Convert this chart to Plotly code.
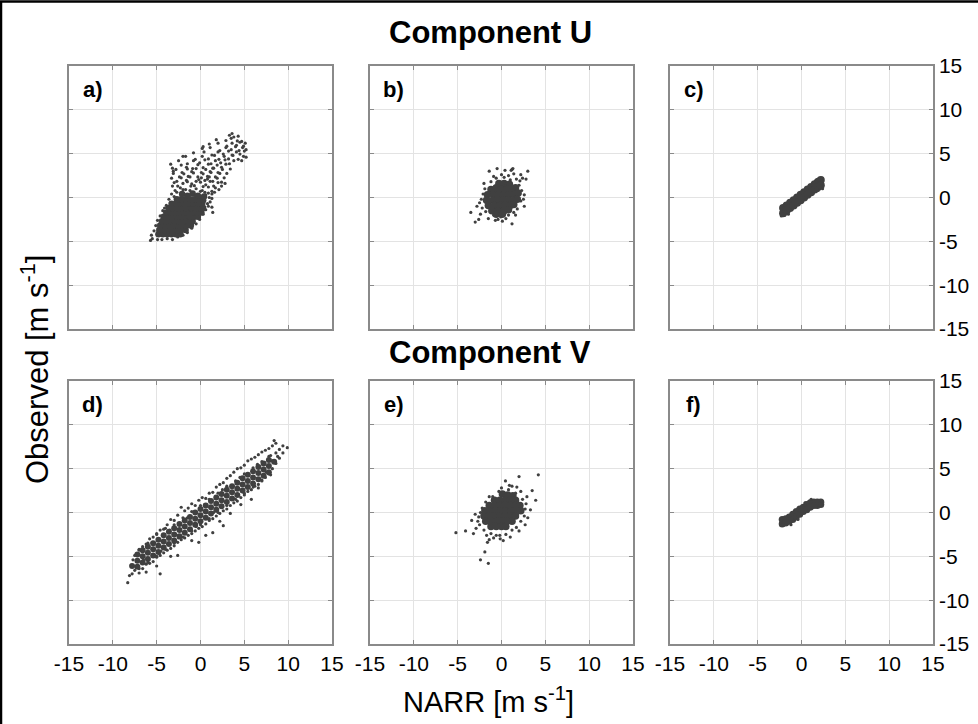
import plotly.graph_objects as go

# ---------------------------------------------------------------
# NARR vs observed wind components (m/s), six panels.
# Each panel: scattered individual samples + densely packed core samples.
# ---------------------------------------------------------------

# a) Component U, station 1
a_pts = [(-3.2, 1.3), (-2.9, 0.8), (-2.3, 1.1), (-1.1, 1.3), (0.2, 0.8), (0.9, 1.2), (1.3, 0.7), (1.7, 1.1),
         (-1.7, 0.9), (-0.5, 1.0), (0.5, 0.6),
         (-3.0, 1.7), (-2.6, 1.3), (-2.0, 1.6), (-1.5, 1.8), (-0.7, 1.35), (0.0, 1.75), (0.6, 1.45),
         (1.1, 1.85), (1.5, 1.3), (2.0, 1.7), (-1.0, 1.55), (0.3, 1.25),
         (-3.3, 2.2), (-2.7, 1.85), (-2.2, 2.25), (-1.6, 1.95), (-1.2, 2.35), (-0.5, 1.85), (0.1, 2.25),
         (0.5, 1.95), (1.0, 2.35), (1.4, 1.85), (1.9, 2.2), (2.4, 1.75), (-0.2, 2.05), (0.8, 2.1),
         (-3.1, 2.75), (-2.4, 2.35), (-1.9, 2.7), (-1.4, 2.4), (-0.8, 2.8), (-0.3, 2.35), (0.3, 2.7),
         (0.8, 2.4), (1.2, 2.85), (1.7, 2.35), (2.2, 2.75), (2.7, 2.25),
         (-2.8, 3.2), (-2.1, 2.85), (-1.5, 3.25), (-1.0, 2.95), (-0.5, 3.3), (0.1, 2.85), (0.6, 3.2),
         (1.1, 2.95), (1.5, 3.35), (2.0, 2.85), (2.5, 3.2), (3.0, 2.75),
         (-3.2, 3.35), (-2.2, 3.7), (-1.6, 3.45), (-0.9, 3.3), (-0.3, 3.75), (0.3, 3.4), (0.9, 3.8),
         (1.4, 3.35), (1.9, 3.7), (2.4, 3.45), (2.9, 3.8), (3.4, 3.25),
         (-2.5, 4.2), (-1.5, 3.85), (-0.8, 4.2), (-0.1, 3.95), (0.5, 4.3), (1.2, 3.85), (1.7, 4.2),
         (2.3, 3.95), (2.8, 4.3), (3.3, 3.85), (3.8, 4.2),
         (-1.7, 4.7), (-0.6, 4.35), (0.2, 4.7), (0.9, 4.4), (1.6, 4.8), (2.1, 4.35), (2.7, 4.7),
         (3.2, 4.4), (3.7, 4.8), (4.3, 4.35), (4.9, 4.7),
         (-0.8, 5.1), (0.4, 5.2), (1.3, 4.85), (2.0, 5.2), (2.6, 4.95), (3.2, 5.3), (3.6, 4.85),
         (4.1, 5.2), (4.5, 4.95), (5.0, 5.3),
         (0.2, 5.6), (1.1, 5.7), (2.2, 5.35), (2.9, 5.7), (3.5, 5.45), (4.0, 5.8), (4.4, 5.35),
         (4.8, 5.7), (5.2, 5.45),
         (1.0, 6.1), (2.0, 6.2), (3.0, 5.85), (3.6, 6.2), (4.1, 5.95), (4.5, 6.3), (4.9, 5.85), (5.1, 6.2),
         (1.8, 6.6), (2.9, 6.5), (3.5, 6.75), (4.2, 6.45), (4.7, 6.4),
         (3.3, 7.1), (3.8, 6.9), (4.3, 7.0), (3.6, 7.3),
         (0.9, 0.5), (1.3, 0.4), (1.6, 0.6), (1.0, 0.0), (1.3, -0.1), (1.1, -0.5), (0.9, -1.0), (1.3, -1.1),
         (1.4, -1.7), (2.1, 0.9), (2.4, 1.3), (2.8, 1.6), (5.2, 4.6), (4.7, 4.2),
         (-5.7, -4.9), (-5.5, -4.7), (-5.6, -4.3), (-5.3, -3.8), (-5.1, -3.2), (-4.9, -2.6), (-4.6, -2.1),
         (-4.3, -1.5), (-3.9, -0.9), (-3.6, -0.2), (-3.3, 0.4), (-4.9, -4.8), (-4.4, -4.8), (-3.8, -4.7),
         (-3.2, -4.8), (-2.6, -4.5), (-2.0, -4.3), (-1.5, -4.0), (-1.0, -3.5), (-0.5, -3.0), (-0.1, -2.5),
         (0.3, -1.9), (0.6, -1.4), (0.8, -0.7), (-3.4, 3.8), (-3.1, 3.0), (-2.0, 4.7), (0.3, 5.8),
         (-2.7, 0.6), (-2.0, 0.9), (-1.2, 0.8), (0.0, 0.7), (0.6, 0.3), (-3.0, 0.1), (-4.1, -1.2)]
a_core = [(-4.8, -4.2), (-4.3, -4.2), (-3.8, -4.2), (-3.3, -4.2), (-2.8, -4.2), (-2.3, -4.2),
          (-4.7, -3.7), (-4.2, -3.7), (-3.7, -3.7), (-3.2, -3.7), (-2.7, -3.7), (-2.2, -3.7), (-1.7, -3.7),
          (-4.6, -3.2), (-4.1, -3.2), (-3.6, -3.2), (-3.1, -3.2), (-2.6, -3.2), (-2.1, -3.2), (-1.6, -3.2),
          (-1.1, -3.2),
          (-4.4, -2.7), (-3.9, -2.7), (-3.4, -2.7), (-2.9, -2.7), (-2.4, -2.7), (-1.9, -2.7), (-1.4, -2.7),
          (-0.9, -2.7),
          (-4.2, -2.2), (-3.7, -2.2), (-3.2, -2.2), (-2.7, -2.2), (-2.2, -2.2), (-1.7, -2.2), (-1.2, -2.2),
          (-0.7, -2.2), (-0.3, -2.2),
          (-3.9, -1.7), (-3.4, -1.7), (-2.9, -1.7), (-2.4, -1.7), (-1.9, -1.7), (-1.4, -1.7), (-0.9, -1.7),
          (-0.4, -1.7), (0.1, -1.7),
          (-3.6, -1.2), (-3.1, -1.2), (-2.6, -1.2), (-2.1, -1.2), (-1.6, -1.2), (-1.1, -1.2), (-0.6, -1.2),
          (-0.1, -1.2), (0.3, -1.2),
          (-3.3, -0.7), (-2.8, -0.7), (-2.3, -0.7), (-1.8, -0.7), (-1.3, -0.7), (-0.8, -0.7), (-0.3, -0.7),
          (0.2, -0.7),
          (-2.7, -0.2), (-2.2, -0.2), (-1.7, -0.2), (-1.2, -0.2), (-0.7, -0.2), (-0.2, -0.2), (0.3, -0.3),
          (-2.1, 0.4), (-1.5, 0.2), (-0.9, 0.45), (-0.3, 0.2), (0.4, 0.1)]

# b) Component U, station 2
b_pts = [(-3.5, -1.7), (-3.0, -2.8), (-2.6, -2.5), (-2.5, -0.6), (-1.4, 3.0), (-0.5, 3.3),
         (0.4, 3.1), (1.2, 3.2), (1.4, 2.7), (3.0, 3.0), (2.8, 2.1), (2.6, 0.3),
         (2.6, -1.0), (1.4, -1.7), (0.5, -2.4), (1.2, -3.0), (-1.5, -2.4), (-0.4, -2.5),
         (2.4, 2.2), (1.7, 2.1), (-2.2, -1.2), (-2.1, 0.4), (-1.9, 1.0), (-1.2, 1.8),
         (-0.6, 2.2), (0.3, 2.3), (1.0, 2.0), (2.0, 1.4), (2.3, 0.8), (2.2, -0.4),
         (1.8, -1.3), (0.8, -2.0), (-0.1, -2.2), (-0.9, -2.0), (-1.8, -1.6), (-2.3, -0.2),
         (1.3, 3.3), (1.1, 3.1), (-2.4, -1.9), (-2.0, 1.6), (-0.9, 2.4), (0.0, 2.6), (0.8, 2.5),
         (2.1, 1.9), (2.5, -0.2), (1.6, -2.0), (-0.7, -2.6), (-2.8, -1.0), (2.2, 2.6), (0.1, -2.7)]
b_core = [(-0.3, 1.6), (0.3, 1.6), (0.9, 1.5), (-0.6, 1.1), (0.6, 1.1),
          (-1.2, 0.9), (-0.6, 0.9), (0.0, 0.9), (0.6, 0.9), (1.2, 0.9), (1.6, 1.1),
          (-1.6, 0.3), (-0.9, 0.3), (-0.3, 0.3), (0.3, 0.3), (0.9, 0.3), (1.5, 0.3), (1.9, 0.5),
          (-1.7, -0.3), (-1.0, -0.3), (-0.4, -0.3), (0.2, -0.3), (0.8, -0.3), (1.4, -0.3), (1.8, -0.2),
          (-1.5, -0.9), (-0.8, -0.9), (-0.2, -0.9), (0.4, -0.9), (1.0, -0.9), (1.4, -0.8),
          (-1.1, -1.5), (-0.4, -1.5), (0.3, -1.5), (0.8, -1.4), (-0.6, -1.9), (0.1, -1.9)]

# c) Component U, station 3
c_pts = [(-2.3, -2.1), (-2.3, -1.2), (-1.9, -2.0), (2.3, 2.2), (2.4, 1.0), (2.0, 2.1),
         (-1.5, -1.9), (1.9, 0.8), (-2.2, -1.6), (2.3, 1.6), (-2.0, -0.9), (1.6, 1.9)]
c_core = [(-2.1, -1.2), (-1.7, -0.9), (-1.3, -0.6), (-0.9, -0.3), (-0.5, 0.0), (-0.1, 0.3),
          (0.3, 0.6), (0.7, 0.9), (1.1, 1.2), (1.5, 1.5), (1.9, 1.8), (2.2, 2.0),
          (-2.1, -1.8), (-1.7, -1.5), (-1.3, -1.2), (-0.9, -0.9), (-0.5, -0.6), (-0.1, -0.3),
          (0.3, 0.0), (0.7, 0.3), (1.1, 0.6), (1.5, 0.9), (1.9, 1.2), (2.2, 1.4)]

# d) Component V, station 1
d_pts = [(-8.3, -8.0), (-8.1, -7.2), (-7.9, -6.0), (-7.7, -5.4), (-7.8, -7.0), (-7.5, -6.6), (-7.5, -4.9),
         (-7.0, -6.9), (-7.0, -4.3), (-6.6, -6.4), (-6.6, -3.9), (-6.2, -5.9), (-6.2, -3.6), (-6.2, -6.8),
         (-5.8, -5.8), (-5.8, -3.0), (-5.4, -5.6), (-5.4, -2.8), (-5.0, -5.1), (-5.0, -2.4), (-5.0, -6.1),
         (-4.6, -4.9), (-4.6, -2.0), (-4.6, -7.0), (-4.2, -4.6), (-4.2, -1.9), (-3.8, -4.3), (-3.8, -1.4),
         (-3.4, -4.1), (-3.4, -0.8), (-3.4, -5.0), (-3.0, -3.8), (-3.0, -0.9), (-2.6, -3.4), (-2.6, -0.3),
         (-2.6, -4.9), (-2.2, -3.1), (-2.2, 0.6), (-1.8, -2.9), (-1.8, 0.2), (-1.4, -2.6), (-1.4, 0.5),
         (-1.0, -2.4), (-1.0, 1.0), (-1.0, -3.2), (-0.6, -2.1), (-0.6, 0.8), (-0.2, -1.8), (-0.2, 1.4),
         (-0.2, -3.4), (0.2, -1.6), (0.2, 1.7), (0.6, -1.3), (0.6, 1.6), (0.6, -2.6), (1.0, -0.9), (1.0, 2.2),
         (1.4, -0.7), (1.4, 2.3), (1.4, -2.3), (1.8, -0.4), (1.8, 2.9), (2.2, -0.1), (2.2, 3.2), (2.2, -1.0),
         (2.6, 0.2), (2.6, 3.4), (2.6, -1.5), (3.0, 0.4), (3.0, 3.9), (3.4, 0.8), (3.4, 4.2), (3.4, -0.1),
         (3.8, 1.1), (3.8, 4.6), (4.2, 1.3), (4.2, 5.0), (4.6, 1.7), (4.6, 5.1), (4.6, 0.9), (5.0, 2.0),
         (5.0, 5.4), (5.4, 2.4), (5.4, 5.9), (5.8, 2.6), (5.8, 6.1), (5.8, 1.5), (6.2, 3.0), (6.2, 6.3),
         (6.6, 3.2), (6.6, 6.6), (6.6, 2.8), (7.0, 3.7), (7.0, 6.9), (7.4, 4.0), (7.4, 7.1), (7.8, 4.4),
         (7.8, 7.3), (7.8, 6.4), (8.2, 5.0), (8.2, 7.6), (8.2, 5.9), (8.6, 5.6), (8.6, 7.9), (8.6, 6.8),
         (9.0, 6.2), (9.0, 7.2), (9.4, 6.8), (9.4, 7.6), (9.9, 7.4), (8.4, 8.2),
         (-7.0, -6.4), (-7.0, -4.2), (-6.0, -5.7), (-6.0, -3.5), (-5.0, -5.0), (-5.0, -2.5), (-4.0, -4.2),
         (-4.0, -1.8), (-3.0, -3.5), (-3.0, -1.4), (-2.0, -2.8), (-2.0, -0.6), (-1.0, -2.1), (-1.0, 0.1),
         (0.0, -1.4), (0.0, 0.8), (1.0, -0.7), (1.0, 1.5), (2.0, 0.0), (2.0, 2.2), (3.0, 0.8), (3.0, 3.0),
         (4.0, 1.5), (4.0, 3.6), (5.0, 2.2), (5.0, 4.4), (6.0, 2.9), (6.0, 5.1), (7.0, 3.6), (7.0, 5.8),
         (8.0, 4.3), (8.0, 6.5), (-6.5, -5.4), (-5.5, -3.4), (-4.5, -4.4), (-3.5, -2.0), (-2.5, -2.9),
         (-1.5, -0.6), (-0.5, -1.6), (0.5, 0.9), (1.5, 0.0), (2.5, 2.6), (3.5, 1.5), (4.5, 4.0),
         (5.5, 2.9), (6.5, 5.5), (7.5, 4.6), (8.8, 6.4)]
d_core = [(-7.2, -6.2), (-6.6, -5.7), (-6.0, -5.3), (-5.4, -4.9), (-4.8, -4.5), (-4.2, -4.0),
          (-3.6, -3.6), (-3.0, -3.2), (-2.4, -2.7), (-1.8, -2.3), (-1.2, -1.9), (-0.6, -1.4),
          (0.0, -1.0), (0.6, -0.6), (1.2, -0.1), (1.8, 0.3), (2.4, 0.7), (3.0, 1.2), (3.6, 1.6),
          (4.2, 2.0), (4.8, 2.5), (5.4, 2.9), (6.0, 3.3), (6.6, 3.8), (7.2, 4.2), (7.8, 4.6),
          (-7.2, -5.5), (-6.6, -5.0), (-6.0, -4.6), (-5.4, -4.2), (-4.8, -3.8), (-4.2, -3.3),
          (-3.6, -2.9), (-3.0, -2.5), (-2.4, -2.0), (-1.8, -1.6), (-1.2, -1.2), (-0.6, -0.7),
          (0.0, -0.3), (0.6, 0.1), (1.2, 0.6), (1.8, 1.0), (2.4, 1.4), (3.0, 1.9), (3.6, 2.3),
          (4.2, 2.7), (4.8, 3.2), (5.4, 3.6), (6.0, 4.0), (6.6, 4.5), (7.2, 4.9), (7.8, 5.3),
          (-7.2, -4.8), (-6.6, -4.3), (-6.0, -3.9), (-5.4, -3.5), (-4.8, -3.1), (-4.2, -2.6),
          (-3.6, -2.2), (-3.0, -1.8), (-2.4, -1.3), (-1.8, -0.9), (-1.2, -0.5), (-0.6, 0.0),
          (0.0, 0.4), (0.6, 0.8), (1.2, 1.3), (1.8, 1.7), (2.4, 2.1), (3.0, 2.6), (3.6, 3.0),
          (4.2, 3.4), (4.8, 3.9), (5.4, 4.3), (6.0, 4.7), (6.6, 5.2), (7.2, 5.6), (7.8, 6.0),
          (8.4, 5.8), (-7.8, -6.1)]

# e) Component V, station 2
e_pts = [(-5.2, -2.3), (-4.1, -2.1), (-3.4, -0.9), (-3.2, -2.4), (-2.4, -5.4), (-1.9, -4.5),
         (-1.5, -5.8), (-1.4, -3.1), (-0.15, -3.0), (0.2, -3.2), (2.0, 4.1), (4.2, 4.3),
         (3.5, 2.5), (3.9, 1.4), (3.3, 0.3), (2.7, -1.4), (2.0, -2.1), (0.45, 3.6),
         (1.2, 3.0), (1.75, 2.9), (-2.6, -0.5), (-2.5, -1.4), (-2.2, 0.5), (-2.0, -2.0),
         (-1.8, 1.2), (-1.2, -2.4), (-1.0, 1.8), (-0.6, -2.6), (-0.3, 2.4), (0.5, -2.5),
         (0.8, 2.6), (1.2, -2.0), (1.6, 2.2), (2.2, -1.0), (2.4, 1.5), (2.7, 0.4),
         (2.6, -0.4), (-2.9, -1.8), (-3.0, -0.2), (-1.6, -3.4), (1.0, -2.8), (2.9, 1.8),
         (-2.7, -1.0), (-2.4, 0.0), (-1.7, -2.6), (-0.9, -2.9), (0.0, 2.8), (0.9, 3.1),
         (2.2, 2.4), (2.8, 1.0), (3.0, -0.6), (1.7, -1.7), (-0.2, -2.6), (-1.4, 1.8)]
e_core = [(0.1, 2.1), (0.7, 2.0), (1.3, 1.9),
          (-0.8, 1.4), (-0.2, 1.4), (0.4, 1.4), (1.0, 1.4), (1.6, 1.4),
          (-1.4, 0.8), (-0.8, 0.8), (-0.2, 0.8), (0.4, 0.8), (1.0, 0.8), (1.6, 0.8), (2.1, 0.8),
          (-1.9, 0.2), (-1.3, 0.2), (-0.7, 0.2), (-0.1, 0.2), (0.5, 0.2), (1.1, 0.2), (1.7, 0.2), (2.2, 0.2),
          (-2.0, -0.4), (-1.4, -0.4), (-0.8, -0.4), (-0.2, -0.4), (0.4, -0.4), (1.0, -0.4), (1.6, -0.4),
          (-1.8, -1.0), (-1.2, -1.0), (-0.6, -1.0), (0.0, -1.0), (0.6, -1.0), (1.2, -1.0),
          (-1.2, -1.6), (-0.6, -1.6), (0.0, -1.6), (0.5, -1.6)]

# f) Component V, station 3
f_pts = [(-2.4, -1.2), (-2.3, -0.9), (2.4, 1.1), (2.3, 1.3), (1.1, 1.5), (-1.2, -1.4),
         (-2.1, -1.4), (2.1, 0.8), (0.4, 1.1), (-0.4, -0.8)]
f_core = [(-2.2, -0.8), (-1.8, -0.7), (-1.4, -0.5), (-1.0, -0.2), (-0.6, 0.1), (-0.2, 0.4),
          (0.2, 0.6), (0.6, 0.9), (1.0, 1.1), (1.4, 1.2), (1.8, 1.2), (2.2, 1.2),
          (-2.2, -1.3), (-1.8, -1.2), (-1.4, -1.0), (-1.0, -0.8), (-0.6, -0.5), (-0.2, -0.2),
          (0.2, 0.1), (0.6, 0.3), (1.0, 0.6), (1.4, 0.8), (1.8, 0.8), (2.2, 0.9)]

panel_labels = ["a)", "b)", "c)", "d)", "e)", "f)"]
row_titles = ["Component U", "Component V"]
tick_vals = [-15, -10, -5, 0, 5, 10, 15]
tick_text = ["-15", "-10", "-5", "0", "5", "10", "15"]

panels = [(a_pts, a_core, 6.5), (b_pts, b_core, 7.5), (c_pts, c_core, 8),
          (d_pts, d_core, 6), (e_pts, e_core, 7.5), (f_pts, f_core, 7)]

W, H = 978, 724
col_left = [69, 370, 670]
row_top = [66, 381]
side = 263
dot_color = "#404040"
font_family = "Liberation Sans, Arial, sans-serif"

fig = go.Figure()
layout = dict(width=W, height=H, margin=dict(l=0, r=0, t=0, b=0),
              paper_bgcolor="white", plot_bgcolor="white", showlegend=False,
              font=dict(family=font_family, color="black"))

for i, (pts, core, core_size) in enumerate(panels):
    r, c = divmod(i, 3)
    n = i + 1
    xa = "xaxis" if n == 1 else f"xaxis{n}"
    ya = "yaxis" if n == 1 else f"yaxis{n}"
    xref = "x" if n == 1 else f"x{n}"
    yref = "y" if n == 1 else f"y{n}"

    fig.add_trace(go.Scatter(x=[p[0] for p in core], y=[p[1] for p in core], mode="markers",
                             marker=dict(size=core_size, color=dot_color, line=dict(width=0)),
                             xaxis=xref, yaxis=yref, hoverinfo="skip"))
    fig.add_trace(go.Scatter(x=[p[0] for p in pts], y=[p[1] for p in pts], mode="markers",
                             marker=dict(size=3.2, color=dot_color, line=dict(width=0)),
                             xaxis=xref, yaxis=yref))

    x0 = col_left[c] / W
    x1 = (col_left[c] + side) / W
    y1 = 1 - row_top[r] / H
    y0 = 1 - (row_top[r] + side) / H
    common = dict(range=[-15, 15], tickvals=tick_vals, ticktext=tick_text,
                  showgrid=True, gridcolor="#e3e3e3", gridwidth=1, zeroline=False,
                  showline=True, linecolor="#8a8a8a", linewidth=1.5, mirror="ticks",
                  ticks="inside", ticklen=4, tickcolor="#8a8a8a", automargin=False,
                  tickfont=dict(size=21, family=font_family, color="black"))
    layout[xa] = dict(common, domain=[x0, x1], anchor=yref,
                      showticklabels=(r == 1))
    layout[ya] = dict(common, domain=[y0, y1], anchor=xref,
                      showticklabels=(c == 2), side="right" if c == 2 else "left")

    fig.add_annotation(x=-12.3, y=12.3, xref=xref, yref=yref, text=f"<b>{panel_labels[i]}</b>",
                       showarrow=False, font=dict(size=22, color="black", family=font_family),
                       xanchor="center", yanchor="middle")

fig.update_layout(**layout)

# Row titles
for r, title in enumerate(row_titles):
    fig.add_annotation(x=490 / W, y=1 - (33 if r == 0 else 352) / H, xref="paper", yref="paper",
                       text=f"<b>{title}</b>", showarrow=False, xanchor="center", yanchor="middle",
                       font=dict(size=31, color="black", family=font_family))

# Shared axis titles
fig.add_annotation(x=488 / W, y=1 - 700 / H, xref="paper", yref="paper",
                   text="NARR [m s<sup>-1</sup>]", showarrow=False, xanchor="center",
                   yanchor="middle", font=dict(size=29, color="black", family=font_family))
fig.add_annotation(x=35 / W, y=1 - 370 / H, xref="paper", yref="paper",
                   text="Observed [m s<sup>-1</sup>]", showarrow=False, textangle=-90,
                   xanchor="center", yanchor="middle",
                   font=dict(size=31, color="black", family=font_family))

# Figure frame
fig.add_shape(type="rect", xref="paper", yref="paper", x0=1 / W, x1=1.05, y0=-0.05,
              y1=1 - 1.5 / H, line=dict(color="black", width=2.5), layer="above")

fig.write_html("out.html")
